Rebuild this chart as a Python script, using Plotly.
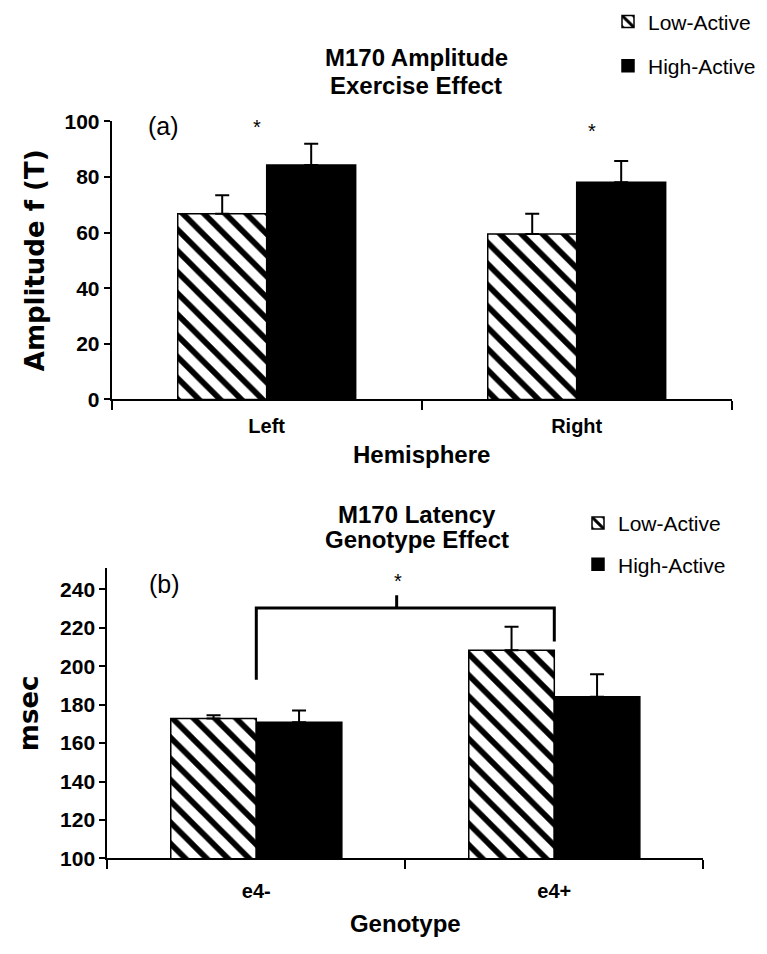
import plotly.graph_objects as go

# ---------------- data ----------------
hemispheres = ["Left", "Right"]
amp_low = [66.8, 59.5]
amp_low_err = [6.6, 7.3]
amp_high = [84.3, 78.1]
amp_high_err = [7.6, 7.6]

genotypes = ["e4-", "e4+"]
lat_low = [172.8, 208.3]
lat_low_err = [1.7, 12.2]
lat_high = [170.9, 184.1]
lat_high_err = [6.1, 11.7]

amp_yticks = [0, 20, 40, 60, 80, 100]
lat_yticks = [100, 120, 140, 160, 180, 200, 220, 240]

# significance markers (value levels)
amp_star_y = [97.9, 96.5]
lat_bracket_top = 230.3
lat_bracket_feet = [193.0, 212.9]
lat_bracket_bump = 237.0
lat_star_y = 244.4

SANS = "Liberation Sans, Arial, Helvetica"
WIDE = "DejaVu Sans, Liberation Sans"

fig = go.Figure()

hatch = dict(shape="\\", fgcolor="black", bgcolor="white", fgopacity=1, size=15, solidity=0.38)
err_style = dict(type="data", symmetric=False, color="black", thickness=2, width=7)


def add_pair(cats, low, low_err, high, high_err, xa, ya, legend):
    fig.add_trace(go.Bar(
        x=cats, y=low, name="Low-Active", xaxis=xa, yaxis=ya, legend=legend,
        legendgroup="low" + legend,
        marker=dict(color="white", pattern=hatch, line=dict(color="black", width=1.5)),
        error_y=dict(array=low_err, arrayminus=[0] * len(low), **err_style),
    ))
    fig.add_trace(go.Bar(
        x=cats, y=high, name="High-Active", xaxis=xa, yaxis=ya, legend=legend,
        legendgroup="high" + legend,
        marker=dict(color="black", line=dict(color="black", width=1.5)),
        error_y=dict(array=high_err, arrayminus=[0] * len(high), **err_style),
    ))


add_pair(hemispheres, amp_low, amp_low_err, amp_high, amp_high_err, "x", "y", "legend")
add_pair(genotypes, lat_low, lat_low_err, lat_high, lat_high_err, "x2", "y2", "legend2")

H = 954.0
W = 767.0

axis_common = dict(showline=True, linecolor="black", linewidth=2, showgrid=False,
                   zeroline=False, ticks="outside", tickcolor="black", tickwidth=2)
num_tickfont = dict(family=SANS, size=21, color="black", weight="bold")
cat_tickfont = dict(family=SANS, size=20, color="black", weight="bold")
xtitle_font = dict(family=SANS, size=24, color="black", weight="bold")
ytitle_font = dict(family=WIDE, size=26, color="black", weight="bold")

fig.update_layout(
    width=767, height=954,
    margin=dict(l=0, r=0, t=0, b=0),
    paper_bgcolor="white", plot_bgcolor="white",
    barmode="group", bargap=0.426, bargroupgap=0,
    showlegend=True,
    xaxis=dict(domain=[111.7 / W, 731.7 / W], anchor="y", tickson="boundaries", ticklen=9,
               tickfont=cat_tickfont, ticklabelstandoff=8,
               title=dict(text="Hemisphere", font=xtitle_font, standoff=10),
               **axis_common),
    yaxis=dict(domain=[(H - 397) / H, (H - 112) / H], anchor="x", range=[0, 100],
               tickvals=amp_yticks, ticklen=6, tickfont=num_tickfont, ticklabelstandoff=0,
               title=dict(text="Amplitude f (T)", font=ytitle_font, standoff=12),
               **axis_common),
    xaxis2=dict(domain=[107.3 / W, 703.3 / W], anchor="y2", tickson="boundaries", ticklen=9,
                tickfont=cat_tickfont, ticklabelstandoff=14,
                title=dict(text="Genotype", font=xtitle_font, standoff=14),
                **axis_common),
    yaxis2=dict(domain=[(H - 867.3) / H, (H - 570) / H], anchor="x2", range=[100, 251],
                tickvals=lat_yticks, ticklen=6, tickfont=num_tickfont, ticklabelstandoff=0,
                title=dict(text="msec", font=ytitle_font, standoff=14),
                **axis_common),
    legend=dict(x=608 / W, y=1 + 11 / H, xanchor="left", yanchor="top",
                font=dict(family=SANS, size=21, color="black"), tracegroupgap=14,
                itemwidth=30, bgcolor="rgba(0,0,0,0)"),
    legend2=dict(x=578 / W, y=1 - 503 / H, xanchor="left", yanchor="top",
                 font=dict(family=SANS, size=21, color="black"), tracegroupgap=11,
                 itemwidth=30, bgcolor="rgba(0,0,0,0)"),
)

title_font = dict(family=SANS, size=24, color="black", weight="bold")
annotations = [
    dict(text="M170 Amplitude", x=416 / W, y=1 - 46.7 / H, xref="paper", yref="paper",
         showarrow=False, font=title_font, yanchor="middle"),
    dict(text="Exercise Effect", x=416 / W, y=1 - 75 / H, xref="paper", yref="paper",
         showarrow=False, font=title_font, yanchor="middle"),
    dict(text="M170 Latency", x=417 / W, y=1 - 515 / H, xref="paper", yref="paper",
         showarrow=False, font=title_font, yanchor="middle"),
    dict(text="Genotype Effect", x=417 / W, y=1 - 541 / H, xref="paper", yref="paper",
         showarrow=False, font=title_font, yanchor="middle"),
    dict(text="(a)", x=145.5 / W, y=1 - 117 / H, xref="paper", yref="paper", showarrow=False,
         font=dict(family=SANS, size=25, color="black"), yanchor="middle"),
    dict(text="(b)", x=147 / W, y=1 - 586 / H, xref="paper", yref="paper", showarrow=False,
         font=dict(family=SANS, size=25, color="black"), yanchor="middle"),
    dict(text="*", x=-0.03, y=amp_star_y[0], xref="x", yref="y", showarrow=False,
         font=dict(family=SANS, size=20, color="black")),
    dict(text="*", x=1.05, y=amp_star_y[1], xref="x", yref="y", showarrow=False,
         font=dict(family=SANS, size=20, color="black")),
    dict(text="*", x=0.475, y=lat_star_y, xref="x2", yref="y2", showarrow=False,
         font=dict(family=SANS, size=20, color="black")),
]
fig.update_layout(annotations=annotations)

# significance bracket in panel (b)
bx = [0, 0, 1, 1]
by = [lat_bracket_feet[0], lat_bracket_top, lat_bracket_top, lat_bracket_feet[1]]
path = "M %s,%s L %s,%s L %s,%s L %s,%s" % (bx[0], by[0], bx[1], by[1], bx[2], by[2], bx[3], by[3])
shapes = [
    dict(type="path", path=path, xref="x2", yref="y2", line=dict(color="black", width=3)),
    dict(type="line", x0=0.471, x1=0.471, y0=lat_bracket_top, y1=lat_bracket_bump, xref="x2", yref="y2",
         line=dict(color="black", width=3)),
]
fig.update_layout(shapes=shapes)

fig.write_html("out.html")
